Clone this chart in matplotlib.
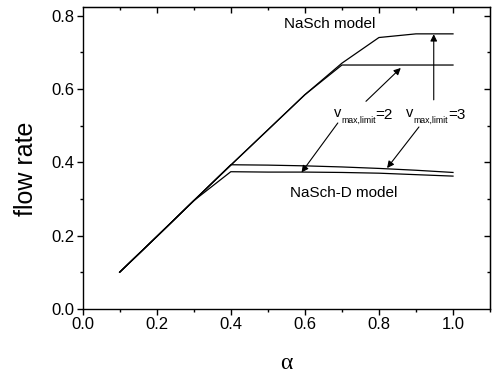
import matplotlib.pyplot as plt
from matplotlib.ticker import MultipleLocator

# data
alpha = [0.1, 0.2, 0.3, 0.4, 0.5, 0.6, 0.7, 0.8, 0.9, 1.0]
nasch_v3 = [0.1, 0.197, 0.295, 0.392, 0.488, 0.584, 0.67, 0.74, 0.75, 0.75]
nasch_v2 = [0.1, 0.197, 0.295, 0.392, 0.488, 0.584, 0.665, 0.665, 0.665, 0.665]
nasch_d_v3 = [0.1, 0.197, 0.295, 0.393, 0.392, 0.39, 0.387, 0.383, 0.378, 0.372]
nasch_d_v2 = [0.1, 0.197, 0.295, 0.374, 0.373, 0.373, 0.372, 0.37, 0.366, 0.362]

plt.rcParams['font.family'] = ['Liberation Sans', 'DejaVu Sans']

fig = plt.figure(figsize=(4.92, 3.73), dpi=100)
ax = fig.add_axes([0.168, 0.172, 0.828, 0.808])

for ys in (nasch_v3, nasch_v2, nasch_d_v3, nasch_d_v2):
    ax.plot(alpha, ys, color='black', lw=0.9)

ax.set_xlim(0, 1.1)
ax.set_ylim(0, 0.822)
ax.set_xticks([0.0, 0.2, 0.4, 0.6, 0.8, 1.0])
ax.xaxis.set_minor_locator(MultipleLocator(0.1))
ax.yaxis.set_major_locator(MultipleLocator(0.2))
ax.yaxis.set_minor_locator(MultipleLocator(0.1))
ax.tick_params(which='major', direction='out', length=4.5, width=1, labelsize=12, pad=1.5)
ax.tick_params(which='minor', direction='out', length=2.5, width=1)
for s in ax.spines.values():
    s.set_linewidth(1.0)

# mirrored inward ticks on top/right
sec_x = ax.secondary_xaxis('top')
sec_x.set_xticks([0.2, 0.4, 0.6, 0.8, 1.0])
sec_x.set_xticks([0.1, 0.3, 0.5, 0.7, 0.9], minor=True)
sec_x.tick_params(which='major', direction='in', length=4.5, width=1, labeltop=False)
sec_x.tick_params(which='minor', direction='in', length=2.5, width=1)
sec_y = ax.secondary_yaxis('right')
sec_y.set_yticks([0.2, 0.4, 0.6, 0.8])
sec_y.set_yticks([0.1, 0.3, 0.5, 0.7], minor=True)
sec_y.tick_params(which='major', direction='in', length=4.5, width=1, labelright=False)
sec_y.tick_params(which='minor', direction='in', length=2.5, width=1)

ax.set_ylabel('flow rate', fontsize=18)
ax.yaxis.set_label_coords(-0.11, 0.465)
ax.set_xlabel('α', fontsize=17, family='Liberation Serif', labelpad=15)

ax.text(0.667, 0.777, 'NaSch model', fontsize=11, ha='center', va='center')
ax.text(0.705, 0.316, 'NaSch-D model', fontsize=11, ha='center', va='center')


def v_label(x, y, value):
    # v, small subscript, then "=value", built from separate pieces
    ax.annotate('v', (x, y), xytext=(0, 1.5), textcoords='offset points',
                fontsize=10.5, va='baseline')
    ax.annotate('max,limit', (x, y), xytext=(5.4, -2.5), textcoords='offset points',
                fontsize=6.3, va='baseline')
    ax.annotate('=' + value, (x, y), xytext=(30, 0), textcoords='offset points',
                fontsize=11, va='baseline')


v_label(0.678, 0.518, '2')
v_label(0.874, 0.518, '3')

arrow = dict(arrowstyle='-|>', color='black', lw=0.8, mutation_scale=10, shrinkA=0, shrinkB=0)
ax.annotate('', xy=(0.859, 0.657), xytext=(0.765, 0.566), arrowprops=arrow)
ax.annotate('', xy=(0.591, 0.372), xytext=(0.689, 0.507), arrowprops=arrow)
ax.annotate('', xy=(0.948, 0.749), xytext=(0.948, 0.57), arrowprops=arrow)
ax.annotate('', xy=(0.822, 0.384), xytext=(0.908, 0.496), arrowprops=arrow)

fig.savefig('out.png', dpi=100)
